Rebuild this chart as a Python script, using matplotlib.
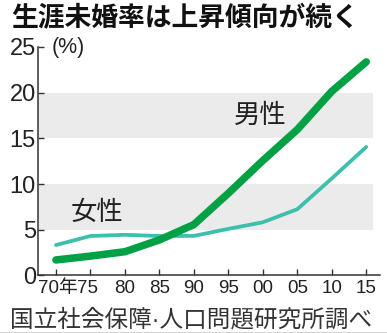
import matplotlib
matplotlib.use("Agg")
import matplotlib.pyplot as plt
import matplotlib.transforms as mtransforms

plt.rcParams['font.family'] = ['Liberation Sans', 'Noto Sans CJK JP']

years = [1970, 1975, 1980, 1985, 1990, 1995, 2000, 2005, 2010, 2015]
year_labels = ["70年", "75", "80", "85", "90", "95", "00", "05", "10", "15"]
male = [1.70, 2.12, 2.60, 3.89, 5.57, 8.99, 12.57, 15.96, 20.14, 23.37]
female = [3.33, 4.32, 4.45, 4.32, 4.33, 5.10, 5.82, 7.25, 10.61, 14.06]
y_ticks = [0, 5, 10, 15, 20, 25]

MALE_GREEN = "#00a045"
FEMALE_TEAL = "#3cbfac"
BAND_GRAY = "#ebebeb"

fig = plt.figure(figsize=(3.87, 3.33), dpi=100)
ax = fig.add_axes([0.0982, 0.1727, 0.8837, 0.6862])

x_lo, x_hi = 1967.4, 2017.0
ax.set_xlim(x_lo, x_hi)
ax.set_ylim(0, 25)

# shaded bands behind the lines
band_end = (2016.0 - x_lo) / (x_hi - x_lo)
for lo, hi in [(5, 10), (15, 20)]:
    ax.axhspan(lo, hi, xmin=0, xmax=band_end, color=BAND_GRAY, lw=0, zorder=0)

ax.plot(years, female, color=FEMALE_TEAL, lw=2.7, solid_capstyle='round', zorder=2)
ax.plot(years, male, color=MALE_GREEN, lw=5.4, solid_capstyle='round', zorder=3)

ax.text(1995.8, 17.5, "男性", fontsize=19, color="#222222", va='center', ha='left',
        family=['Noto Sans CJK JP'])
ax.text(1972.2, 6.9, "女性", fontsize=19, color="#222222", va='center', ha='left',
        family=['Noto Sans CJK JP'])

for side in ['top', 'right']:
    ax.spines[side].set_visible(False)
for side in ['left', 'bottom']:
    ax.spines[side].set_linewidth(1.1)
    ax.spines[side].set_color("#333333")

ax.set_xticks(years)
ax.set_xticklabels(year_labels)
ax.set_yticks(y_ticks)
ax.tick_params(axis='both', direction='in', length=4.5, width=1.0, color="#333333",
               labelcolor="#222222")
ax.tick_params(axis='x', pad=3.5, labelsize=13.5)
ax.tick_params(axis='y', pad=1.5, labelsize=17)

# "70年" and "75" share the space between the first two ticks
shifts = {0: 2.0, 1: -2.5}
for i, lab in enumerate(ax.get_xticklabels()):
    if i in shifts:
        off = mtransforms.ScaledTranslation(shifts[i] / 100, 0, fig.dpi_scale_trans)
        lab.set_transform(lab.get_transform() + off)

fig.text(52 / 387, 1 - 48 / 333, "(%)", fontsize=15.5, color="#222222", va='center', ha='left')

fig.text(11 / 387, 1 - 17 / 333, "生涯未婚率は上昇傾向が続く", fontsize=19.3,
         fontweight='bold', color="#111111", va='center', ha='left',
         family=['Noto Sans CJK JP'])

# narrow middle dot comes from Liberation Sans, the kanji from Noto
fig.text(10 / 387, 1 - 320 / 333, "国立社会保障·人口問題研究所調べ", fontsize=17.0,
         color="#333333", va='center', ha='left',
         family=['Liberation Sans', 'Noto Sans CJK JP'])

fig.add_artist(plt.Line2D([0, 1], [0.5 / 333, 0.5 / 333], transform=fig.transFigure,
                          color="#222222", lw=1.0))

fig.savefig("out.png", dpi=100)
